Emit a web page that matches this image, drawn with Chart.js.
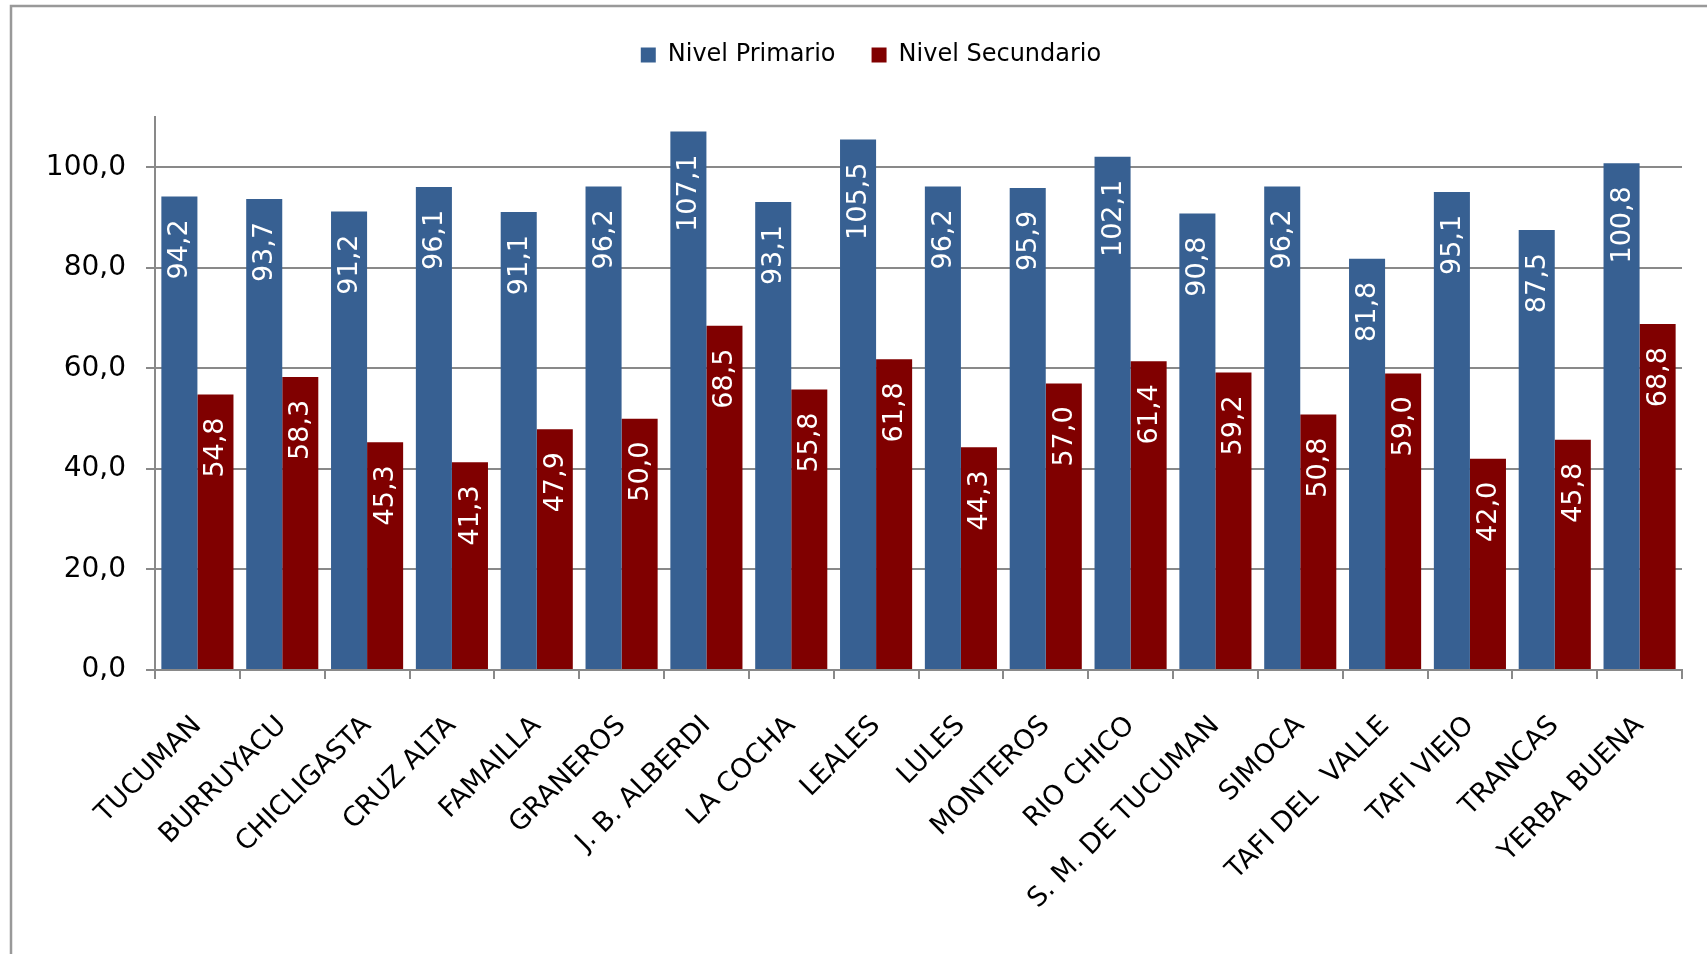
<!DOCTYPE html>
<html>
<head>
<meta charset="utf-8">
<title>Nivel Primario y Secundario por departamento</title>
<script src="https://cdn.jsdelivr.net/npm/chart.js@4.4.1/dist/chart.umd.min.js"></script>
<style>
  html, body { margin: 0; padding: 0; background: #fff; }
  #wrap { width: 1707px; height: 954px; }
</style>
</head>
<body>
<div id="wrap"><canvas id="chart" width="1707" height="954"></canvas></div>
<script>
// departamentos
const categories = ['TUCUMAN', 'BURRUYACU', 'CHICLIGASTA', 'CRUZ ALTA', 'FAMAILLA', 'GRANEROS',
  'J. B. ALBERDI', 'LA COCHA', 'LEALES', 'LULES', 'MONTEROS', 'RIO CHICO',
  'S. M. DE TUCUMAN', 'SIMOCA', 'TAFI DEL  VALLE', 'TAFI VIEJO', 'TRANCAS', 'YERBA BUENA'];

const nivelPrimario = [94.2, 93.7, 91.2, 96.1, 91.1, 96.2, 107.1, 93.1, 105.5, 96.2, 95.9, 102.1,
  90.8, 96.2, 81.8, 95.1, 87.5, 100.8];

const nivelSecundario = [54.8, 58.3, 45.3, 41.3, 47.9, 50.0, 68.5, 55.8, 61.8, 44.3, 57.0, 61.4,
  59.2, 50.8, 59.0, 42.0, 45.8, 68.8];

const yTicks = [0, 20, 40, 60, 80, 100];

const fmt = v => v.toFixed(1).replace('.', ',');
const FONT = 'DejaVu Sans';
const GRID = '#898989';

// marco gris del grafico (solo lados izquierdo y superior quedan visibles)
const frame = {
  id: 'frame',
  beforeDraw(chart) {
    const ctx = chart.ctx;
    ctx.save();
    ctx.strokeStyle = '#999999';
    ctx.lineWidth = 2.5;
    ctx.beginPath();
    ctx.moveTo(11, chart.height);
    ctx.lineTo(11, 6);
    ctx.lineTo(chart.width, 6);
    ctx.stroke();
    ctx.restore();
  }
};

// leyenda: mas espacio debajo y centrada un poco a la derecha
const legendSpace = {
  id: 'legendSpace',
  afterInit(chart) {
    const fit = chart.legend.fit;
    chart.legend.fit = function() {
      fit.call(this);
      this.height += 40;
    };
  },
  afterLayout(chart) {
    chart.legend.left += 60;
  }
};

// etiquetas de valor verticales dentro de cada barra
const barLabels = {
  id: 'barLabels',
  afterDatasetsDraw(chart) {
    const ctx = chart.ctx;
    ctx.save();
    ctx.fillStyle = '#ffffff';
    ctx.font = '27px "' + FONT + '"';
    ctx.textAlign = 'right';
    ctx.textBaseline = 'middle';
    chart.data.datasets.forEach((ds, i) => {
      chart.getDatasetMeta(i).data.forEach((bar, j) => {
        ctx.save();
        ctx.translate(bar.x, bar.y + 23);
        ctx.rotate(-Math.PI / 2);
        ctx.fillText(fmt(ds.data[j]), 0, 1);
        ctx.restore();
      });
    });
    ctx.restore();
  }
};

new Chart(document.getElementById('chart'), {
  type: 'bar',
  data: {
    labels: categories,
    datasets: [{
      label: 'Nivel Primario',
      data: nivelPrimario,
      backgroundColor: '#376092',
      borderWidth: 0
    }, {
      label: 'Nivel Secundario',
      data: nivelSecundario,
      backgroundColor: '#800000',
      borderWidth: 0
    }]
  },
  options: {
    responsive: false,
    animation: false,
    layout: { padding: { top: 7, right: 25, left: 0, bottom: 0 } },
    datasets: {
      bar: { categoryPercentage: 0.85, barPercentage: 1.0 }
    },
    scales: {
      x: {
        grid: {
          offset: true,
          drawOnChartArea: false,
          drawTicks: true,
          tickLength: 9,
          color: GRID,
          lineWidth: 2
        },
        border: { display: true, color: GRID, width: 2 },
        ticks: {
          autoSkip: false,
          minRotation: 45,
          maxRotation: 45,
          padding: 31,
          color: '#000',
          font: { family: FONT, size: 27 }
        },
        afterFit(scale) { scale.height = 284; }
      },
      y: {
        min: 0,
        max: 110,
        grid: {
          color: GRID,
          lineWidth: 2,
          tickLength: 9,
          drawTicks: true
        },
        border: { display: true, color: GRID, width: 2 },
        ticks: {
          stepSize: 20,
          padding: 20,
          color: '#000',
          font: { family: FONT, size: 28 },
          callback: v => fmt(v)
        },
        afterBuildTicks(scale) {
          scale.ticks = yTicks.map(v => ({ value: v }));
        },
        afterFit(scale) { scale.width = 155; }
      }
    },
    plugins: {
      legend: {
        position: 'top',
        labels: {
          boxWidth: 15,
          boxHeight: 15,
          padding: 36,
          color: '#000',
          font: { family: FONT, size: 24 }
        }
      },
      tooltip: { enabled: false }
    }
  },
  plugins: [frame, legendSpace, barLabels]
});
</script>
</body>
</html>
